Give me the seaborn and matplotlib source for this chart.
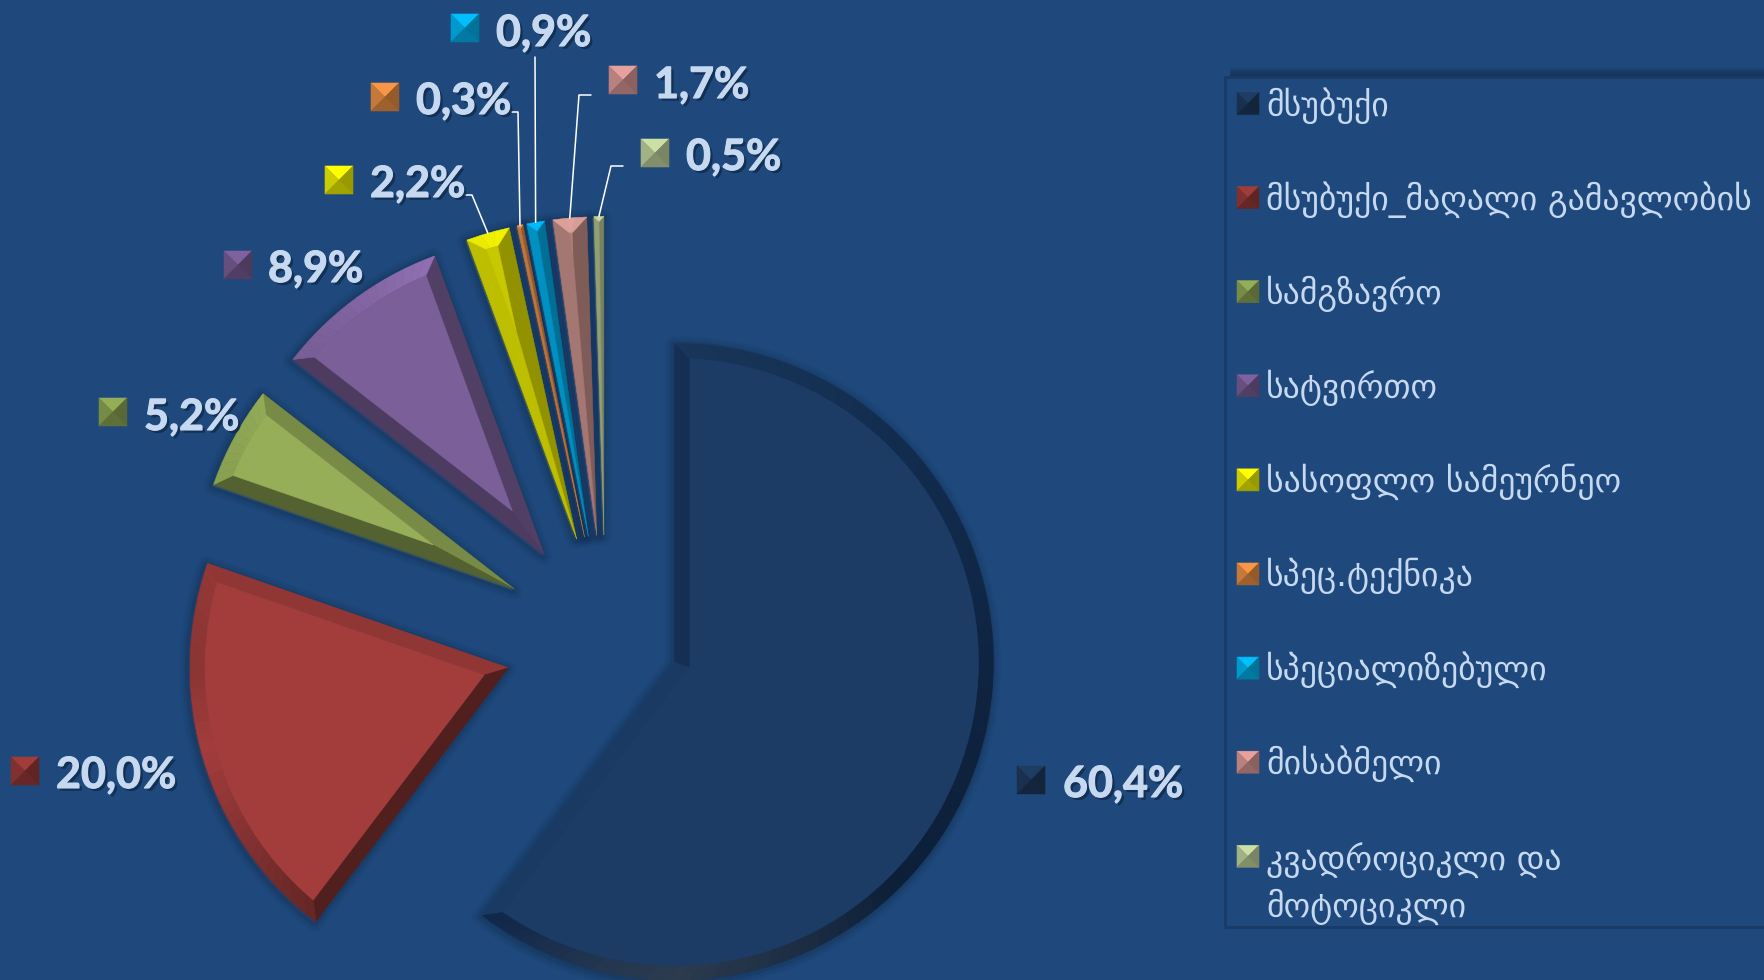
import matplotlib

matplotlib.use("Agg")
import matplotlib.patheffects as pe
import matplotlib.pyplot as plt
import numpy as np
import seaborn as sns
from matplotlib.colors import to_rgb
from matplotlib.patches import Polygon, Rectangle

# data
CATEGORIES = [
    "მსუბუქი",
    "მსუბუქი_მაღალი გამავლობის",
    "სამგზავრო",
    "სატვირთო",
    "სასოფლო სამეურნეო",
    "სპეც.ტექნიკა",
    "სპეციალიზებული",
    "მისაბმელი",
    "კვადროციკლი და\nმოტოციკლი",
]
SHARES = [60.4, 20.0, 5.2, 8.9, 2.2, 0.3, 0.9, 1.7, 0.5]
EXPLODE = [0.23, 0.318, 0.325, 0.325, 0.325, 0.325, 0.325, 0.325, 0.325]
FACE_COLORS = ["#1c3c66", "#a23d3c", "#95ae57", "#7b5f99", "#c8c800", "#c4793f", "#0095c8", "#b07f7a", "#a7b483"]
KEY_COLORS = ["#1f3c63", "#a03d3b", "#94ae58", "#7f619e", "#ffff00", "#f79646", "#00bfff", "#e6a19e", "#ccdfa5"]

BG = "#1f497d"
TEXT = "#c6d9f1"
WIDTH, HEIGHT = 1765, 980
PIE_CENTER = (605.5, 341.5)
PIE_RADIUS = 318.5
BEVEL = 15

# label text left/middle and key middle, pixels from the top left
LABEL_POS = [(1063, 784), (56, 775), (144, 417), (268, 269), (370, 184), (416, 101), (496, 33), (654, 85), (686, 157)]
KEY_POS = [(1031, 780), (25, 771), (113, 412), (238, 265), (339, 180), (385, 97), (465, 28), (623, 80), (655, 153)]
# leader start points, the last point is taken from the wedge
LEADERS = {
    4: [(465, 195), (472, 195)],
    5: [(511, 112), (518, 112)],
    6: [(535, 57)],
    7: [(591, 95), (579, 95)],
    8: [(623, 166), (611, 166)],
}

# bevel shading by direction of the outward normal, degrees
SHADE_ANGLES = [0, 10, 20, 52, 71, 95, 130, 150, 180, 195, 232, 251, 323]
SHADE_VALUES = [0.72, 0.75, 0.66, 0.8, 0.89, 1.27, 1.03, 0.95, 0.86, 1.0, 0.63, 0.56, 0.5]
# the big slice has its own rim colours
MAIN_ANGLES = [0, 45, 90, 142, 180, 233, 255, 270, 290, 315]
MAIN_COLORS = ["#0f2442", "#122c4f", "#183659", "#1a3a64", "#142e54", "#11274a", "#233650", "#2c3b4e", "#1e2f45", "#0d1f38"]


def rim_color(index, normal):
    normal = normal % 360
    if index == 0:
        rgb = np.array([to_rgb(c) for c in MAIN_COLORS])
        return tuple(np.interp(normal, MAIN_ANGLES, rgb[:, i], period=360) for i in range(3))
    factor = np.interp(normal, SHADE_ANGLES, SHADE_VALUES, period=360)
    return tuple(np.clip(np.array(to_rgb(FACE_COLORS[index])) * factor, 0, 1))


def polar(center, radius, angle):
    a = np.radians(angle)
    return np.array([center[0] + radius * np.cos(a), center[1] + radius * np.sin(a)])


def facet(ax, points, color):
    ax.add_patch(Polygon(points, closed=True, facecolor=color, edgecolor=color, linewidth=0.4, zorder=3))


def draw_bevel(ax, wedge, index):
    apex, r = np.array(wedge.center), wedge.r
    t1, t2 = wedge.theta1, wedge.theta2
    half = (t2 - t1) / 2
    mid = (t1 + t2) / 2
    delta = np.degrees(np.arcsin(BEVEL / (r - BEVEL)))
    out1, out2 = polar(apex, r, t1), polar(apex, r, t2)
    steps = max(int((t2 - t1) / 2), 2)
    angles = np.linspace(t1, t2, steps + 1)

    if half <= delta:
        # too thin for a flat face, the bevels meet in a ridge
        ridge = polar(apex, r / (1 + np.sin(np.radians(half))), mid)
        facet(ax, [apex, out1, ridge], rim_color(index, t1 - 90))
        facet(ax, [apex, out2, ridge], rim_color(index, t2 + 90))
        arc = [polar(apex, r, a) for a in angles]
        facet(ax, arc + [ridge], rim_color(index, mid))
        return

    inner_apex = polar(apex, BEVEL / np.sin(np.radians(half)), mid)
    inner_angles = np.linspace(t1 + delta, t2 - delta, steps + 1)
    inner = [polar(apex, r - BEVEL, a) for a in inner_angles]
    facet(ax, [apex, out1, inner[0], inner_apex], rim_color(index, t1 - 90))
    facet(ax, [apex, out2, inner[-1], inner_apex], rim_color(index, t2 + 90))
    for k in range(steps):
        seg = [polar(apex, r, angles[k]), polar(apex, r, angles[k + 1]), inner[k + 1], inner[k]]
        facet(ax, seg, rim_color(index, (angles[k] + angles[k + 1]) / 2))
    facet(ax, [inner_apex] + inner, FACE_COLORS[index])


def draw_key(ax, x, y, size, color):
    # small pyramid marker, y counted from the top
    y = HEIGHT - y
    h = size / 2
    base = np.array(to_rgb(color))
    nw, ne, sw, se, c = (x - h, y + h), (x + h, y + h), (x - h, y - h), (x + h, y - h), (x, y)
    for pts, factor in [([nw, ne, c], 1.0), ([nw, sw, c], 0.8), ([ne, se, c], 0.6), ([sw, se, c], 0.64)]:
        facet(ax, pts, tuple(base * factor))


def draw_legend(ax):
    left, top, bottom = 1225, HEIGHT - 77, HEIGHT - 927
    # soft shadow over the top edge of the box
    for k in range(1, 10):
        ax.plot([left + 6, WIDTH], [top + k, top + k], color="#0f2542", alpha=0.5 * (1 - k / 10), lw=1.2, zorder=1)
    ax.add_patch(Rectangle((left, bottom), 700, top - bottom, facecolor=BG, edgecolor="#183a65", linewidth=2, zorder=2))
    for k, label in enumerate(CATEGORIES):
        row = 103.5 + k * 94.1
        draw_key(ax, 1248, row, 22, KEY_COLORS[k])
        # a two line label hangs from its first line, va="baseline" goes by the last one
        baseline = HEIGHT - row - 12 - label.count("\n") * 49
        ax.text(1266, baseline, label, color=TEXT, fontsize=24.3, family="DejaVu Sans",
                va="baseline", ha="left", linespacing=1.36, zorder=5)


def main():
    sns.set_theme(style="white", rc={"figure.facecolor": BG, "axes.facecolor": BG, "savefig.facecolor": BG})
    plt.rcParams["font.family"] = ["Lato", "DejaVu Sans"]

    fig = plt.figure(figsize=(WIDTH / 100, HEIGHT / 100), dpi=100)
    ax = fig.add_axes([0, 0, 1, 1])

    shadow = [
        pe.Stroke(linewidth=w, foreground="#0b1f3c", alpha=a, joinstyle="round", offset=(-1, -1))
        for w, a in [(13, 0.07), (9, 0.1), (5, 0.14)]
    ]
    wedges, _ = ax.pie(
        SHARES,
        explode=np.array(EXPLODE) * PIE_RADIUS,
        colors=sns.color_palette(FACE_COLORS),
        startangle=90,
        counterclock=False,
        radius=PIE_RADIUS,
        center=PIE_CENTER,
        wedgeprops={"linewidth": 0, "zorder": 2, "path_effects": shadow},
    )
    ax.set_xlim(0, WIDTH)
    ax.set_ylim(0, HEIGHT)
    ax.set_aspect("equal")
    ax.axis("off")

    for i, wedge in enumerate(wedges):
        draw_bevel(ax, wedge, i)

    for i, points in LEADERS.items():
        wedge = wedges[i]
        end = polar(wedge.center, wedge.r, (wedge.theta1 + wedge.theta2) / 2)
        xs = [p[0] for p in points] + [end[0]]
        ys = [HEIGHT - p[1] for p in points] + [end[1]]
        ax.plot(xs, ys, color="white", lw=1.1, zorder=4)

    text_effects = [
        pe.SimplePatchShadow(offset=(2, -2), shadow_rgbFace="#0e2747", alpha=0.75),
        pe.Stroke(linewidth=0.8, foreground=TEXT),
        pe.Normal(),
    ]
    for i, share in enumerate(SHARES):
        x, y = LABEL_POS[i]
        draw_key(ax, KEY_POS[i][0], KEY_POS[i][1], 28, KEY_COLORS[i])
        ax.text(x, HEIGHT - y, f"{share:.1f}%".replace(".", ","), color=TEXT, fontsize=31, fontweight="bold",
                va="center", ha="left", zorder=5, path_effects=text_effects)

    draw_legend(ax)
    fig.savefig("out.png", dpi=100)
    plt.close(fig)


if __name__ == "__main__":
    main()
